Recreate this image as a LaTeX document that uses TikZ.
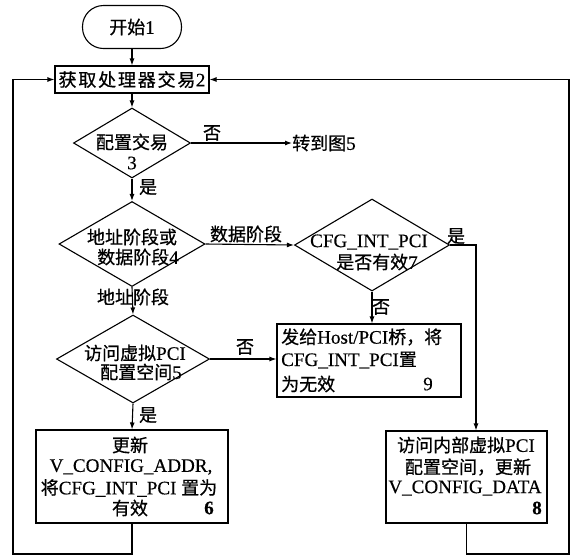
\documentclass[tikz,border=0pt]{standalone}
\usepackage{fontspec}
\setmainfont{Liberation Serif}[Scale=1.06,FakeBold=0.4]
\newfontfamily\cjk{Noto Sans CJK SC}[FakeBold=0.7]
\usetikzlibrary{shapes.geometric,arrows.meta,calc}
\newcommand\zh[1]{{\cjk #1}}
\begin{document}
\begin{tikzpicture}[x=1pt,y=-1pt,
  every node/.style={font=\fontsize{18}{20}\selectfont, inner sep=0pt},
  flow/.style={line width=1.1pt, -{Latex[length=7pt,width=5pt]}},
  plain/.style={line width=1.1pt},
  boxst/.style={draw, line width=1.1pt, rectangle, inner sep=0pt},
  dia/.style={draw, line width=1.1pt, diamond, inner sep=0pt},
  startst/.style={draw, line width=1.1pt, rectangle, rounded corners=21pt, minimum width=99pt, minimum height=43pt}]
\useasboundingbox (0,0) rectangle (577,558);

% nodes
\node[startst] (n1) at (132,27) {\zh{开始}1};
\node[boxst, minimum width=154pt, minimum height=27pt] (n2) at (132,79.5)
  {\zh{获\hspace{1.8pt}取\hspace{1.8pt}处\hspace{1.8pt}理\hspace{1.8pt}器\hspace{1.8pt}交\hspace{1.8pt}易}\hspace{0.5pt}2};

\node[dia, minimum width=117pt, minimum height=70pt] (d3) at (132,143) {};
\node (d3a) at (132,142) {\zh{配置交易}};
\node (d3b) at (132,163) {3};

\node[anchor=west] (go) at (292,143) {\zh{转到图}5};

\node[dia, minimum width=146pt, minimum height=85pt] (d4) at (132,244) {};
\node (d4a) at (132,237) {\zh{地址阶段或}};
\node (d4b) at (138,257) {\zh{数据阶段}4};

\node[dia, minimum width=155pt, minimum height=92pt] (d7) at (372,245) {};
\node (d7a) at (369,242) {CFG\_INT\_PCI};
\node (d7b) at (377,262) {\zh{是否有效}7};

\node[dia, minimum width=153pt, minimum height=88pt] (d5) at (133,359) {};
\node (d5a) at (135,353) {\zh{访问虚拟}PCI};
\node (d5b) at (141,372) {\zh{配置空间}5};

\node[boxst, minimum width=192pt, minimum height=93pt] (n6) at (132,476.5) {};
\node (n6a) at (130,445) {\zh{更新}};
\node (n6b) at (131,467) {V\_CONFIG\_ADDR,};
\node (n6c) at (129,488) {\zh{将}CFG\_INT\_PCI \zh{置为}};
\node (n6d) at (130,508) {\zh{有效}};
\node (n6e) at (209,508) {\textbf{6}};

\node[boxst, minimum width=184pt, minimum height=73pt] (n9) at (369,360.5) {};
\node[anchor=west] (n9a) at (281,337) {\zh{发给}Host/PCI\zh{桥，将}};
\node[anchor=west] (n9b) at (281,360) {CFG\_INT\_PCI\zh{置}};
\node[anchor=west] (n9c) at (281,384) {\zh{为无效}};
\node (n9d) at (428,384) {9};

\node[boxst, minimum width=161pt, minimum height=92pt] (n8) at (466.5,477) {};
\node (n8a) at (466,445) {\zh{访问内部虚拟}PCI};
\node (n8b) at (468,467) {\zh{配置空间，更新}};
\node (n8c) at (465,488) {V\_CONFIG\_DATA};
\node (n8d) at (537,508) {\textbf{8}};

% labels
\node (l3n) at (212,133) {\zh{否}};
\node (l3y) at (148,187) {\zh{是}};
\node (l4d) at (246,234) {\zh{数据阶段}};
\node (l4a) at (133,297) {\zh{地址阶段}};
\node (l5n) at (245,347) {\zh{否}};
\node (l5y) at (148,415) {\zh{是}};
\node (l7y) at (456,236) {\zh{是}};
\node (l7n) at (381,307) {\zh{否}};

% helper coordinates
\coordinate (c7) at (476,245);
\coordinate (lb) at (13,554);
\coordinate (rb) at (569,554);

% connectors
\draw[flow] (n1.south) -- (n2.north);
\draw[flow] (n2.south) -- (d3.north);
\draw[flow] (d3.east) -- (go.west);
\draw[flow] (d3.south) -- (d4.north);
\draw[flow] (d4.east) -- (d7.west);
\draw[flow] (d4.south) -- (d5.north);
\draw[flow] (d5.east) -- (d5.east -| n9.west);
\draw[flow] (d5.south) -- (n6.north);
\draw[flow] (d7.south) -- (d7.south |- n9.north);
\draw[flow] (d7.east) -- (c7) -- (c7 |- n8.north);
\draw[flow] (n6.south) |- (lb) |- (n2.west);
\draw[flow] (n8.south) |- (rb) |- (n2.east);
\end{tikzpicture}
\end{document}
